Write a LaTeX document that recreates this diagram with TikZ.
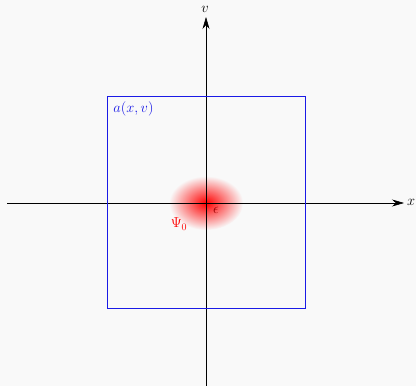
\documentclass[tikz,border=0pt]{standalone}
\usetikzlibrary{arrows.meta}
\definecolor{bg}{HTML}{F9F9F9}
\definecolor{boxblue}{HTML}{1A1AE6}
\begin{document}
\begin{tikzpicture}[x=1pt,y=-1pt,
  axis/.style={line width=0.6pt,-{Stealth[length=12pt,width=7pt]}},
  lab/.style={font=\Large}]
\fill[bg] (0,0) rectangle (416,386);
\useasboundingbox (0,0) rectangle (416,386);
\shade[inner color=red, outer color=bg] (206,203) ellipse [x radius=37, y radius=27];
\coordinate (xs) at (7,203);
\coordinate (xe) at (404,203);
\coordinate (vs) at (206,386);
\coordinate (ve) at (206,17);
\draw[axis] (xs) -- (xe);
\draw[axis] (vs) -- (ve);
\node[lab, anchor=west, inner sep=1pt] (xl) at (406,202) {$x$};
\node[lab, inner sep=1pt] (vl) at (205,9) {$v$};
\draw[boxblue, line width=0.8pt] (107,96) rectangle (305,308);
\node[lab, text=boxblue] (al) at (133.5,109) {$a(x,v)$};
\node[lab, text=red] (psi) at (179,224) {$\Psi_0$};
\node[lab, text=red!60!black] (eps) at (216,210) {$\epsilon$};
\end{tikzpicture}
\end{document}
